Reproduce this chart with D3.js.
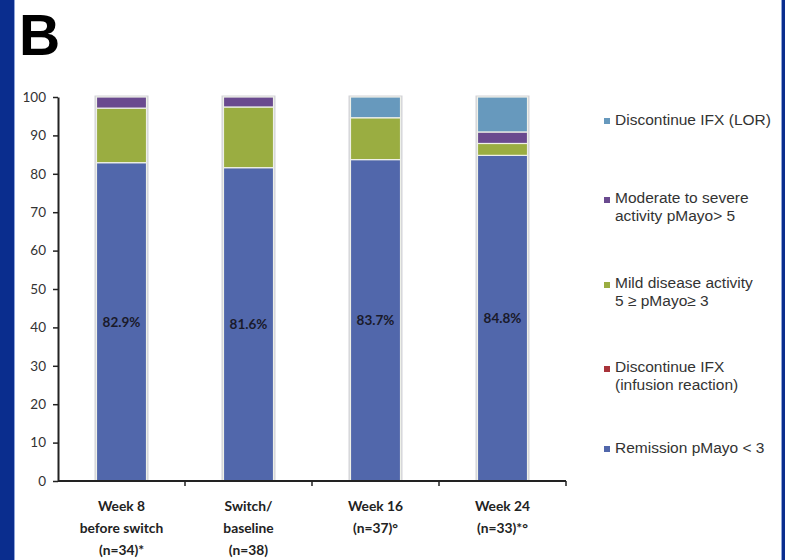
<!DOCTYPE html>
<html>
<head>
<meta charset="utf-8">
<script src="https://cdn.jsdelivr.net/npm/d3@7"></script>
<style>
  html, body { margin: 0; padding: 0; background: #ffffff; }
  svg { display: block; }
</style>
</head>
<body>
<script>
// Timepoints (x axis), each drawn on up to three lines
const categories = ["Week 8", "Switch", "Week 16", "Week 24"];
const categoryLines = [
  ["Week 8", "before switch", "(n=34)*"],
  ["Switch/", "baseline", "(n=38)"],
  ["Week 16", "(n=37)°"],
  ["Week 24", "(n=33)*°"]
];

// Percentage of patients per outcome at each timepoint (stack order bottom -> top)
const remission   = [82.9, 81.6, 83.7, 84.8];
const infusion    = [0, 0, 0, 0];
const mild        = [14.2, 15.8, 10.9, 3.1];
const moderate    = [2.9, 2.6, 0, 3.0];
const lor         = [0, 0, 5.4, 9.1];

const seriesKeys  = ["remission", "infusion", "mild", "moderate", "lor"];
const seriesNames = {
  lor: ["Discontinue IFX (LOR)"],
  moderate: ["Moderate to severe", "activity pMayo> 5"],
  mild: ["Mild disease activity", "5 ≥ pMayo≥ 3"],
  infusion: ["Discontinue IFX", "(infusion reaction)"],
  remission: ["Remission pMayo < 3"]
};
const seriesColors = {
  remission: "#5167ab",
  infusion: "#a8333a",
  mild: "#9aad41",
  moderate: "#6a4a8f",
  lor: "#6799bd"
};
const legendOrder = ["lor", "moderate", "mild", "infusion", "remission"];
const yTicks = [0, 10, 20, 30, 40, 50, 60, 70, 80, 90, 100];

const W = 785, H = 560;
const svg = d3.select("body").append("svg").attr("width", W).attr("height", H);

// Page background with navy side bands
svg.append("rect").attr("width", W).attr("height", H).attr("fill", "#ffffff");
svg.append("rect").attr("x", 0).attr("y", 0).attr("width", 14).attr("height", H).attr("fill", "#0a2d8e");
svg.append("rect").attr("x", 14).attr("y", 0).attr("width", 1).attr("height", H).attr("fill", "#8fa4d8");
svg.append("rect").attr("x", 782).attr("y", 0).attr("width", 3).attr("height", H).attr("fill", "#0a2d8e");
svg.append("rect").attr("x", 781).attr("y", 0).attr("width", 1).attr("height", H).attr("fill", "#8fa4d8");

// Panel letter
svg.append("text")
  .attr("x", 19).attr("y", 55)
  .attr("font-family", "Liberation Sans, Arial, sans-serif")
  .attr("font-weight", "bold").attr("font-size", 57)
  .attr("fill", "#000").text("B");

const plot = { left: 58, right: 566, top: 97, bottom: 481 };

const x = d3.scaleBand().domain(categories).range([plot.left, plot.right]).paddingInner(0.606).paddingOuter(0.303);
const y = d3.scaleLinear().domain([0, 100]).range([plot.bottom, plot.top]);

const rows = categories.map((c, i) => ({
  cat: c, remission: remission[i], infusion: infusion[i], mild: mild[i], moderate: moderate[i], lor: lor[i]
}));
const stacked = d3.stack().keys(seriesKeys)(rows);

const g = svg.append("g");

// Soft grey halo behind each bar
g.selectAll("rect.halo").data(rows).join("rect")
  .attr("class", "halo")
  .attr("x", d => x(d.cat) - 2)
  .attr("width", x.bandwidth() + 4)
  .attr("y", d => y(d3.sum(seriesKeys, k => d[k])) - 1.5)
  .attr("height", d => y(0) - y(d3.sum(seriesKeys, k => d[k])) + 1.5)
  .attr("fill", "#d4d4d8");

// Stacked segments
stacked.forEach(s => {
  g.selectAll(null).data(s.filter(d => d[1] - d[0] > 0)).join("rect")
    .attr("x", d => x(d.data.cat))
    .attr("width", x.bandwidth())
    .attr("y", d => y(d[1]))
    .attr("height", d => y(d[0]) - y(d[1]))
    .attr("fill", seriesColors[s.key])
    .attr("stroke", "#eef0e8").attr("stroke-width", 1.2);
});

// Remission percentage labels, centred in the segment
const remStack = stacked.find(s => s.key === "remission");
g.selectAll("text.val").data(remStack).join("text")
  .attr("class", "val")
  .attr("x", d => x(d.data.cat) + x.bandwidth() / 2)
  .attr("y", d => y((d[0] + d[1]) / 2))
  .attr("dy", "0.35em")
  .attr("text-anchor", "middle")
  .attr("font-family", "Lato, Open Sans, sans-serif")
  .attr("font-weight", "bold").attr("font-size", 13.5)
  .attr("fill", "#1a1a2a")
  .text(d => d.data.remission.toFixed(1) + "%");

// Y axis
const yAxis = svg.append("g")
  .attr("transform", `translate(${plot.left},0)`)
  .call(d3.axisLeft(y).tickValues(yTicks).tickSize(5).tickPadding(7).tickSizeOuter(0));
yAxis.select(".domain").attr("stroke", "#222").attr("stroke-width", 2);
yAxis.selectAll(".tick line").attr("stroke", "#222").attr("stroke-width", 1.5);
yAxis.selectAll(".tick text")
  .attr("font-family", "Lato, Open Sans, sans-serif")
  .attr("font-size", 13.5).attr("fill", "#333");

// X axis with ticks at band boundaries
const xAxisG = svg.append("g").attr("transform", `translate(0,${plot.bottom})`);
xAxisG.append("line")
  .attr("x1", plot.left).attr("x2", plot.right)
  .attr("stroke", "#222").attr("stroke-width", 2);
const step = x.step();
const boundaries = categories.map((c, i) => plot.left + step * (i + 1));
xAxisG.selectAll("line.tk").data(boundaries).join("line")
  .attr("class", "tk")
  .attr("x1", d => d).attr("x2", d => d)
  .attr("y1", 0).attr("y2", 5)
  .attr("stroke", "#222").attr("stroke-width", 1.5);

// Category labels
categories.forEach((c, i) => {
  const t = svg.append("text")
    .attr("text-anchor", "middle")
    .attr("font-family", "Lato, Open Sans, sans-serif")
    .attr("font-weight", "bold").attr("font-size", 13.8)
    .attr("fill", "#222");
  categoryLines[i].forEach((line, j) => {
    t.append("tspan")
      .attr("x", x(c) + x.bandwidth() / 2)
      .attr("y", 511 + j * 22)
      .text(line);
  });
});

// Legend
const legendY = { lor: 125, moderate: 203, mild: 288, infusion: 372, remission: 453 };
legendOrder.forEach(k => {
  const lines = seriesNames[k];
  const baseY = legendY[k];
  const squareY = lines.length > 1 ? baseY - 6 : baseY - 7;
  svg.append("rect")
    .attr("x", 604).attr("y", squareY)
    .attr("width", 6).attr("height", 6)
    .attr("fill", seriesColors[k]);
  const t = svg.append("text")
    .attr("font-family", "Liberation Sans, Arial, sans-serif")
    .attr("font-size", 15.5).attr("fill", "#333");
  lines.forEach((line, j) => {
    t.append("tspan").attr("x", 615).attr("y", baseY + j * 18).text(line);
  });
});
</script>
</body>
</html>
